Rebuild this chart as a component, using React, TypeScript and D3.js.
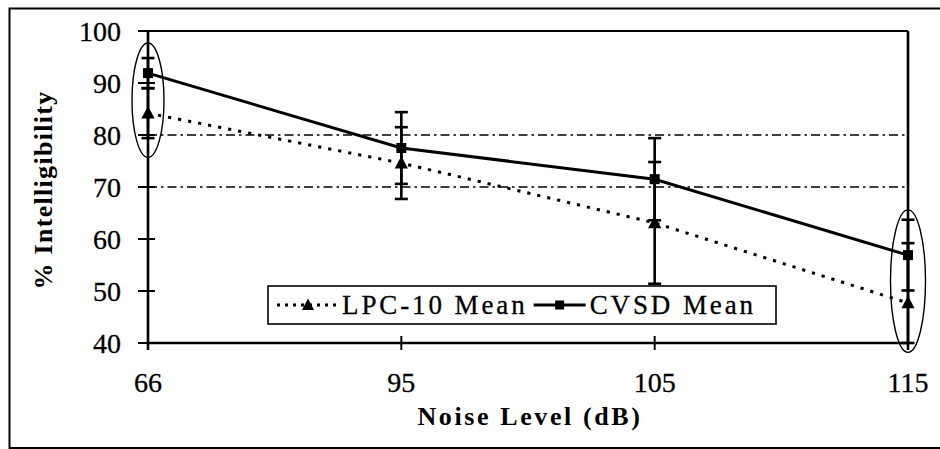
import React, { useEffect, useRef } from "react";
import * as d3 from "d3";

const categories = ["66", "95", "105", "115"];
const lpcMean = [84.2, 74.6, 63.1, 47.7];
const lpcErr = [4.8, 6.9, 11.7, 11.5];
const cvsdMean = [91.9, 77.5, 71.5, 56.9];
const cvsdErr = [2.9, 6.9, 7.9, 6.8];
const yTicks = [40, 50, 60, 70, 80, 90, 100];
const refLines = [70, 80];
const highlightCats = ["66", "115"];
const highlightCenters = [86.7, 51.9];
const highlightHalfHeights = [11, 13.7];
const xTitle = "Noise Level (dB)";
const yTitle = "% Intelligibility";
const legendLabels = ["LPC-10 Mean", "CVSD Mean"];

const FONT = "'Liberation Serif', 'Times New Roman', serif";

export default function App() {
  const ref = useRef<SVGSVGElement | null>(null);

  useEffect(() => {
    const svg = d3.select(ref.current);
    svg.selectAll("*").remove();

    const left = 148, right = 908, top = 31, bottom = 343;
    const x = d3.scalePoint<string>().domain(categories).range([left, right]);
    const y = d3.scaleLinear().domain([40, 100]).range([bottom, top]);
    const clampV = (v: number) => Math.max(40, Math.min(100, v));

    // outer frame
    svg.append("rect").attr("x", 9.5).attr("y", 8.5).attr("width", 960).attr("height", 439.5)
      .attr("fill", "none").attr("stroke", "#000").attr("stroke-width", 2);

    // reference lines
    refLines.forEach((v) => {
      svg.append("line").attr("x1", left).attr("x2", right - 3).attr("y1", y(v)).attr("y2", y(v))
        .attr("stroke", "#000").attr("stroke-width", 1.4).attr("stroke-dasharray", "9,4,2.5,4");
    });

    // LPC dotted line
    const line = d3.line<[number, number]>().x((d) => d[0]).y((d) => d[1]);
    const lpcPts: [number, number][] = categories.map((c, i) => [x(c)!, y(lpcMean[i])]);
    const cvsdPts: [number, number][] = categories.map((c, i) => [x(c)!, y(cvsdMean[i])]);
    svg.append("path").attr("d", line(lpcPts)!).attr("fill", "none").attr("stroke", "#000")
      .attr("stroke-width", 3).attr("stroke-dasharray", "3.2,7");

    // ellipses
    highlightCats.forEach((c, i) => {
      const cy = y(highlightCenters[i]);
      const ry = y(40) - y(40 + highlightHalfHeights[i]);
      svg.append("ellipse").attr("cx", x(c)!).attr("cy", cy).attr("rx", i === 0 ? 16 : 17.5).attr("ry", ry)
        .attr("fill", "none").attr("stroke", "#000").attr("stroke-width", 1.4);
    });

    // plot box / axes
    svg.append("line").attr("x1", left).attr("x2", right).attr("y1", top).attr("y2", top)
      .attr("stroke", "#000").attr("stroke-width", 2.2);
    svg.append("line").attr("x1", right).attr("x2", right).attr("y1", top).attr("y2", bottom + 7)
      .attr("stroke", "#000").attr("stroke-width", 2.6);
    svg.append("line").attr("x1", left).attr("x2", left).attr("y1", top).attr("y2", bottom + 7)
      .attr("stroke", "#000").attr("stroke-width", 2.6);
    svg.append("line").attr("x1", left).attr("x2", right).attr("y1", bottom).attr("y2", bottom)
      .attr("stroke", "#000").attr("stroke-width", 2.6);

    yTicks.forEach((t) => {
      svg.append("line").attr("x1", left - 10).attr("x2", left + 7).attr("y1", y(t)).attr("y2", y(t))
        .attr("stroke", "#000").attr("stroke-width", 2);
      svg.append("text").attr("x", 121).attr("y", y(t) + 10).attr("text-anchor", "end")
        .attr("font-family", FONT).attr("font-size", 28).attr("stroke", "#000").attr("stroke-width", 0.3)
        .text(String(t));
    });
    categories.forEach((c) => {
      svg.append("line").attr("x1", x(c)!).attr("x2", x(c)!).attr("y1", bottom - 7).attr("y2", bottom + 7)
        .attr("stroke", "#000").attr("stroke-width", 2);
      svg.append("text").attr("x", x(c)!).attr("y", 392).attr("text-anchor", "middle")
        .attr("font-family", FONT).attr("font-size", 28).attr("stroke", "#000").attr("stroke-width", 0.3)
        .text(c);
    });

    // CVSD solid line
    svg.append("path").attr("d", line(cvsdPts)!).attr("fill", "none").attr("stroke", "#000")
      .attr("stroke-width", 3);

    // error bars
    const drawErr = (means: number[], errs: number[]) => {
      categories.forEach((c, i) => {
        const cx = x(c)!;
        const hi = clampV(means[i] + errs[i]);
        const lo = clampV(means[i] - errs[i]);
        svg.append("line").attr("x1", cx).attr("x2", cx).attr("y1", y(hi)).attr("y2", y(lo))
          .attr("stroke", "#000").attr("stroke-width", 2.6);
        [hi, lo].forEach((v) => {
          svg.append("line").attr("x1", cx - 6.5).attr("x2", cx + 6.5).attr("y1", y(v)).attr("y2", y(v))
            .attr("stroke", "#000").attr("stroke-width", 2.6);
        });
      });
    };
    drawErr(cvsdMean, cvsdErr);
    drawErr(lpcMean, lpcErr);

    const tri = (cx: number, cy: number, s: number) =>
      `M${cx},${cy - s * 0.6}L${cx + s * 0.55},${cy + s * 0.45}L${cx - s * 0.55},${cy + s * 0.45}Z`;

    lpcPts.forEach(([px, py]) => {
      svg.append("path").attr("d", tri(px, py, 12)).attr("fill", "#000");
    });
    cvsdPts.forEach(([px, py]) => {
      svg.append("rect").attr("x", px - 5).attr("y", py - 5).attr("width", 10).attr("height", 10).attr("fill", "#000");
    });

    // titles
    svg.append("text").attr("x", 530).attr("y", 425).attr("text-anchor", "middle")
      .attr("font-family", FONT).attr("font-weight", "bold").attr("font-size", 26)
      .attr("letter-spacing", 2.6).text(xTitle);
    svg.append("text").attr("transform", "translate(52,190) rotate(-90)").attr("text-anchor", "middle")
      .attr("font-family", FONT).attr("font-weight", "bold").attr("font-size", 26)
      .attr("letter-spacing", 1.3).text(yTitle);

    // legend
    const lx = 268, ly = 286, lw = 508, lh = 38;
    svg.append("rect").attr("x", lx).attr("y", ly).attr("width", lw).attr("height", lh)
      .attr("fill", "#fff").attr("stroke", "#000").attr("stroke-width", 1.6);
    const cy = ly + lh / 2;
    svg.append("line").attr("x1", 277).attr("x2", 338).attr("y1", cy).attr("y2", cy)
      .attr("stroke", "#000").attr("stroke-width", 3).attr("stroke-dasharray", "3,5");
    svg.append("path").attr("d", tri(308, cy, 11)).attr("fill", "#000");
    const t1 = svg.append("text").attr("x", 342).attr("y", ly + 28).attr("font-family", FONT)
      .attr("font-size", 27).attr("letter-spacing", 2.9).attr("stroke", "#000").attr("stroke-width", 0.3)
      .text(legendLabels[0]);
    const w1 = (t1.node() as SVGTextElement).getComputedTextLength();
    const s2 = 342 + w1 + 6;
    svg.append("line").attr("x1", s2).attr("x2", s2 + 52).attr("y1", cy).attr("y2", cy)
      .attr("stroke", "#000").attr("stroke-width", 3);
    svg.append("rect").attr("x", s2 + 26 - 4.5).attr("y", cy - 4.5).attr("width", 9).attr("height", 9).attr("fill", "#000");
    svg.append("text").attr("x", s2 + 56).attr("y", ly + 28).attr("font-family", FONT)
      .attr("font-size", 27).attr("letter-spacing", 2.9).attr("stroke", "#000").attr("stroke-width", 0.3)
      .text(legendLabels[1]);
  }, []);

  return (
    <svg
      ref={ref}
      width={940}
      height={449}
      style={{ position: "absolute", left: 0, top: 0, background: "#fff", display: "block" }}
    />
  );
}
